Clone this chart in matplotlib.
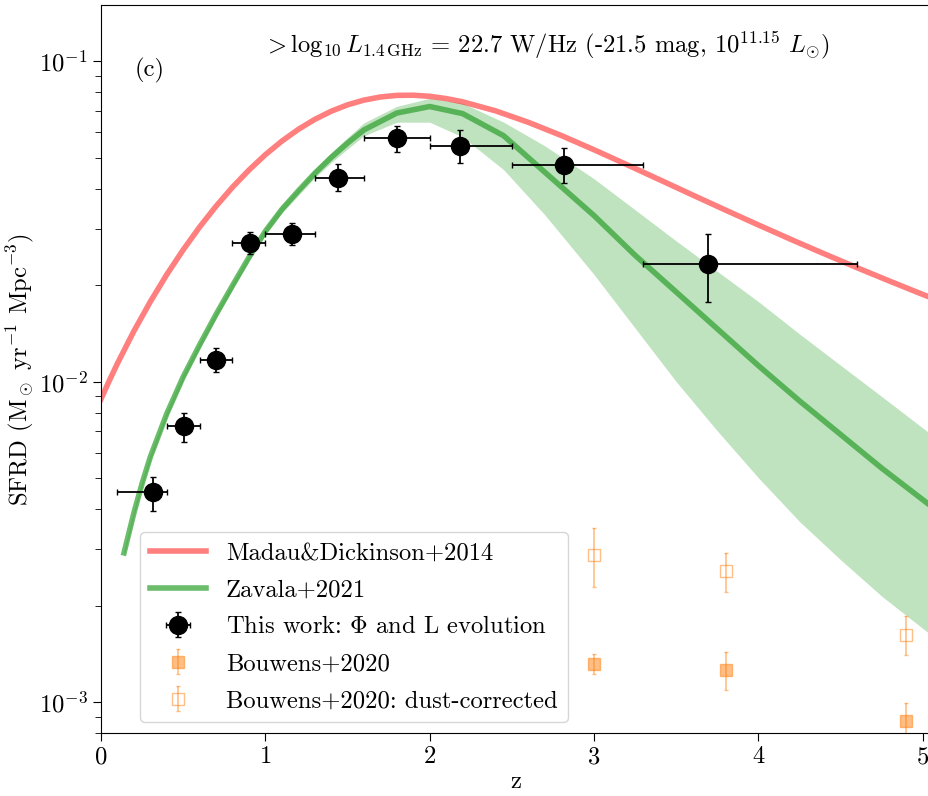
import matplotlib
matplotlib.use("Agg")
import matplotlib.pyplot as plt

plt.rcParams["font.family"] = "serif"
plt.rcParams["font.serif"] = ["cmr10"]
plt.rcParams["mathtext.fontset"] = "cm"
plt.rcParams["axes.formatter.use_mathtext"] = True
plt.rcParams["axes.unicode_minus"] = False

# Madau & Dickinson (2014) cosmic SFRD
md_z = [0.0, 0.05, 0.1, 0.2, 0.3, 0.4, 0.5, 0.6, 0.7, 0.8, 0.9, 1.0, 1.1,
        1.2, 1.3, 1.4, 1.5, 1.6, 1.7, 1.8, 1.9, 2.0, 2.1, 2.2, 2.4, 2.6,
        2.8, 3.0, 3.2, 3.4, 3.6, 3.8, 4.0, 4.2, 4.4, 4.6, 4.8, 5.0, 5.2]
md_sfrd = [0.00883, 0.01006, 0.01140, 0.01438, 0.01777, 0.02159, 0.02580,
           0.03040, 0.03531, 0.04047, 0.04578, 0.05113, 0.05636, 0.06132,
           0.06588, 0.06987, 0.07318, 0.07571, 0.07743, 0.07831, 0.07842,
           0.07780, 0.07655, 0.07479, 0.07010, 0.06454, 0.05871, 0.05297,
           0.04759, 0.04268, 0.03826, 0.03433, 0.03085, 0.02778, 0.02508,
           0.02269, 0.02059, 0.01872, 0.01707]

# Zavala et al. (2021) model with its uncertainty band
zav_z = [0.14, 0.2, 0.25, 0.3, 0.4, 0.5, 0.6, 0.7, 0.8, 0.9, 1.0, 1.1, 1.2,
         1.3, 1.4, 1.5, 1.6, 1.8, 2.0, 2.2, 2.45, 2.7, 3.0, 3.25, 3.5, 3.75,
         4.0, 4.25, 4.5, 4.75, 5.05]
zav_sfrd = [0.00292, 0.00389, 0.00481, 0.00582, 0.00794, 0.01035, 0.01303,
            0.01622, 0.01995, 0.02443, 0.0295, 0.0345, 0.0394, 0.0447,
            0.0501, 0.0556, 0.0611, 0.0690, 0.0723, 0.0687, 0.0586, 0.0451,
            0.0330, 0.0248, 0.01905, 0.01462, 0.01122, 0.00871, 0.00684,
            0.00537, 0.00409]
zav_hi = [0.00299, 0.00398, 0.00492, 0.00595, 0.00812, 0.01059, 0.01333,
          0.01659, 0.02041, 0.0250, 0.0303, 0.0355, 0.0403, 0.0460, 0.0518,
          0.0578, 0.0643, 0.0724, 0.0767, 0.0740, 0.0646, 0.0545, 0.0430,
          0.0344, 0.0275, 0.0221, 0.01778, 0.01409, 0.01125, 0.00899,
          0.00685]
zav_lo = [0.00285, 0.00380, 0.00470, 0.00569, 0.00776, 0.01011, 0.01273,
          0.01585, 0.01949, 0.02387, 0.0287, 0.0336, 0.0381, 0.0433, 0.0483,
          0.0533, 0.0586, 0.0646, 0.0646, 0.0581, 0.0459, 0.0332, 0.0216,
          0.01469, 0.0100, 0.00702, 0.00501, 0.00366, 0.00278, 0.00214,
          0.00162]

# This work: redshift bins and SFRD with uncertainties
tw_z = [0.315, 0.505, 0.70, 0.907, 1.164, 1.44, 1.804, 2.185, 2.82, 3.694]
tw_zmin = [0.1, 0.4, 0.6, 0.8, 1.0, 1.3, 1.6, 2.0, 2.5, 3.3]
tw_zmax = [0.4, 0.6, 0.8, 1.0, 1.3, 1.6, 2.0, 2.5, 3.3, 4.6]
tw_sfrd = [0.00451, 0.00728, 0.0117, 0.0271, 0.0289, 0.0434, 0.0577, 0.0543,
           0.0476, 0.0233]
tw_lo = [0.00396, 0.0065, 0.0107, 0.0251, 0.0267, 0.0394, 0.0521, 0.0483,
         0.0416, 0.0177]
tw_hi = [0.00504, 0.0080, 0.0127, 0.0294, 0.0312, 0.0477, 0.0627, 0.0609,
         0.0538, 0.0290]

# Bouwens et al. (2020), UV-based, raw and dust-corrected
bw_z = [3.0, 3.8, 4.9]
bw_sfrd = [0.001318, 0.00126, 0.000871]
bw_lo = [0.00122, 0.00109, 0.00076]
bw_hi = [0.00141, 0.00143, 0.000995]
bwd_sfrd = [0.00288, 0.00257, 0.00162]
bwd_lo = [0.00229, 0.00221, 0.00140]
bwd_hi = [0.00349, 0.00292, 0.00185]

FS = 17.7


def asym_err(vals, lo, hi):
    return [[v - a for v, a in zip(vals, lo)], [b - v for v, b in zip(vals, hi)]]


fig = plt.figure(figsize=(9.29, 7.96), dpi=100)
ax = fig.add_axes([101 / 929, 63 / 796, 830 / 929, 728 / 796])

ax.plot(md_z, md_sfrd, color="red", alpha=0.5, lw=4,
        label="Madau&Dickinson+2014")
ax.fill_between(zav_z, zav_lo, zav_hi, color="C2", alpha=0.3, lw=0)
ax.plot(zav_z, zav_sfrd, color="C2", alpha=0.7, lw=4, label="Zavala+2021")

ax.errorbar(tw_z, tw_sfrd, xerr=asym_err(tw_z, tw_zmin, tw_zmax),
            yerr=asym_err(tw_sfrd, tw_lo, tw_hi), fmt="o", color="black",
            ms=13, elinewidth=1.3, capsize=2,
            label=r"This work: $\Phi$ and L evolution")

ax.errorbar(bw_z, bw_sfrd, yerr=asym_err(bw_sfrd, bw_lo, bw_hi), fmt="s",
            color="C1", alpha=0.5, ms=9, elinewidth=1.2, capsize=1.5,
            label="Bouwens+2020")
ax.errorbar(bw_z, bwd_sfrd, yerr=asym_err(bwd_sfrd, bwd_lo, bwd_hi), fmt="s",
            color="C1", mfc="none", alpha=0.5, ms=9, elinewidth=1.2,
            capsize=1.5, label="Bouwens+2020: dust-corrected")

ax.set_yscale("log")
ax.set_xlim(0, 5.05)
ax.set_ylim(8e-4, 0.15)
ax.set_xlabel("z", fontsize=FS, labelpad=2)
ax.set_ylabel(r"SFRD (M$_\odot$ yr$^{-1}$ Mpc$^{-3}$)", fontsize=FS,
              labelpad=2)
ax.tick_params(which="major", labelsize=FS, length=6)
ax.tick_params(which="minor", length=4)
ax.spines["right"].set_visible(False)

ax.text(0.058, 0.91, "(c)", transform=ax.transAxes, fontsize=FS,
        ha="center", va="center")
ax.text(0.537, 0.945,
        r"$>\log_{10}L_{1.4\,\mathrm{GHz}}$ = 22.7 W/Hz (-21.5 mag, "
        r"$10^{11.15}$ $L_{\odot}$)",
        transform=ax.transAxes, fontsize=FS, ha="center", va="center")

ax.legend(loc="lower left", bbox_to_anchor=(0.047, 0.015), borderaxespad=0,
          fontsize=FS, labelspacing=0.6, handlelength=2.3)

fig.savefig("out.png", dpi=100)
